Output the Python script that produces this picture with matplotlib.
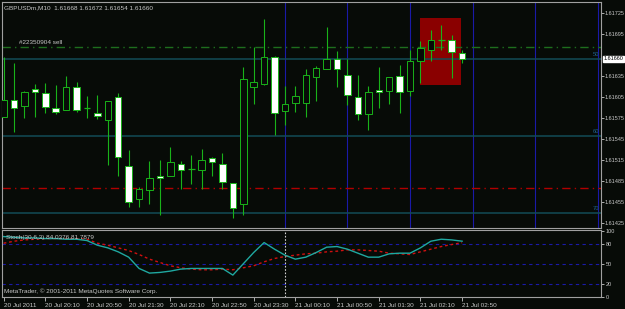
import matplotlib.pyplot as plt
from matplotlib.patches import Rectangle
import numpy as np

# GBPUSDm M10 bars, 20 Jul 19:30 .. 21 Jul 02:50
opens = [1.61576, 1.61601, 1.61593, 1.61616, 1.61611, 1.61589, 1.61586, 1.61620, 1.61590, 1.61582,
         1.61572, 1.61605, 1.61507, 1.61459, 1.61472, 1.61493, 1.61493, 1.61510, 1.61502, 1.61501,
         1.61518, 1.61510, 1.61483, 1.61453, 1.61620, 1.61624, 1.61663, 1.61585, 1.61597, 1.61597,
         1.61634, 1.61645, 1.61659, 1.61637, 1.61605, 1.61581, 1.61615, 1.61614, 1.61635, 1.61614,
         1.61657, 1.61673, 1.61686, 1.61686, 1.61668]
highs = [1.61662, 1.61654, 1.61614, 1.61624, 1.61625, 1.61623, 1.61635, 1.61627, 1.61606, 1.61608,
         1.61600, 1.61611, 1.61529, 1.61476, 1.61514, 1.61515, 1.61534, 1.61514, 1.61523, 1.61531,
         1.61520, 1.61525, 1.61483, 1.61648, 1.61676, 1.61717, 1.61664, 1.61621, 1.61621, 1.61645,
         1.61649, 1.61705, 1.61671, 1.61660, 1.61636, 1.61621, 1.61648, 1.61634, 1.61651, 1.61672,
         1.61685, 1.61701, 1.61708, 1.61694, 1.61672]
lows = [1.61576, 1.61555, 1.61575, 1.61577, 1.61583, 1.61581, 1.61586, 1.61584, 1.61575, 1.61574,
        1.61508, 1.61492, 1.61448, 1.61448, 1.61453, 1.61436, 1.61493, 1.61474, 1.61481, 1.61474,
        1.61493, 1.61474, 1.61432, 1.61437, 1.61595, 1.61623, 1.61551, 1.61565, 1.61584, 1.61577,
        1.61599, 1.61645, 1.61619, 1.61594, 1.61573, 1.61558, 1.61589, 1.61595, 1.61583, 1.61607,
        1.61625, 1.61657, 1.61673, 1.61633, 1.61654]
closes = [1.61601, 1.61589, 1.61613, 1.61613, 1.61591, 1.61584, 1.61620, 1.61587, 1.61590, 1.61578,
          1.61600, 1.61519, 1.61455, 1.61474, 1.61489, 1.61490, 1.61512, 1.61501, 1.61502, 1.61515,
          1.61512, 1.61484, 1.61447, 1.61631, 1.61626, 1.61662, 1.61582, 1.61595, 1.61606, 1.61636,
          1.61646, 1.61660, 1.61645, 1.61608, 1.61581, 1.61613, 1.61612, 1.61634, 1.61613, 1.61656,
          1.61675, 1.61687, 1.61686, 1.61669, 1.61660]

stoch_main = [91, 90, 89, 89, 88, 88, 87, 87, 85, 78, 74, 68, 60, 43, 36, 37, 39, 42, 43, 43,
              43, 43, 33, 50, 67, 82, 72, 63, 57, 60, 67, 75, 76, 72, 66, 60, 60, 65, 66, 66,
              74, 84, 87, 86, 84.04]
stoch_signal = [81, 84, 86, 87, 88, 88, 88, 88, 87, 81, 78, 74, 70, 64, 57, 52, 47, 44, 42, 41,
                41, 42, 41, 44, 47, 53, 58, 61, 63, 65, 66, 68, 69, 71, 71, 70, 69, 66, 65, 64,
                68, 72, 76, 79, 81.79]

time_pos = [0, 4, 8, 12, 16, 20, 24, 28, 32, 36, 40, 44]
time_labels = ["20 Jul 2011", "20 Jul 20:10", "20 Jul 20:50", "20 Jul 21:30", "20 Jul 22:10",
               "20 Jul 22:50", "20 Jul 23:30", "21 Jul 00:10", "21 Jul 00:50", "21 Jul 01:30",
               "21 Jul 02:10", "21 Jul 02:50"]
# 1.61665 sits under the current-price box, so it is not shown
price_ticks = [1.61425, 1.61455, 1.61485, 1.61515, 1.61545, 1.61575, 1.61605, 1.61635,
               1.61695, 1.61725]
stoch_ticks = [0, 20, 50, 80, 100]

order_price = 1.61676
red_level = 1.61475
teal_levels = [1.61660, 1.61550, 1.61440]
teal_names = ["50", "60", "70"]
hour_bars = [27, 33, 39, 45, 51, 57]
box_bars = (39.96, 43.9)
box_prices = (1.61622, 1.61718)
last_price = 1.61660

plt.rcParams['font.family'] = ['Liberation Sans', 'DejaVu Sans']
bg = '#070b07'
fg = '#c8c8c8'
green = '#19b219'
fs = 4.6
fs_axis = 4.0

fig = plt.figure(figsize=(6.25, 3.09), dpi=100, facecolor=bg)
W, H = 625, 309
ax = fig.add_axes([2 / W, 1 - 228 / H, 599 / W, 226 / H], facecolor=bg)
ax2 = fig.add_axes([2 / W, 1 - 297 / H, 599 / W, 67 / H], facecolor=bg)

xs = np.arange(len(opens))
xlim = (-0.154, 57.33)

# main pane
ax.add_patch(Rectangle((box_bars[0], box_prices[0]), box_bars[1] - box_bars[0],
                       box_prices[1] - box_prices[0], facecolor='#8a0000', edgecolor='none', zorder=1))
for b in hour_bars:
    ax.axvline(b, color='#1a1aa8', lw=0.8, zorder=1)
for lv in teal_levels:
    ax.axhline(lv, color='#124c56', lw=1.1, zorder=1)
ax.axhline(order_price, color='#1d6e1d', lw=1.0, ls=(0, (6, 3, 1, 3)), zorder=1)
ax.axhline(red_level, color='#b00000', lw=1.0, ls=(0, (6, 3, 1, 3)), zorder=1)

ax.vlines(xs, lows, highs, color=green, lw=0.8, zorder=2)
for i in xs:
    o, c = opens[i], closes[i]
    face = 'white' if c < o else bg
    lo, hi = min(o, c), max(o, c)
    if hi - lo < 1e-7:
        ax.hlines(o, i - 0.32, i + 0.32, color=green, lw=0.9, zorder=3)
    else:
        ax.add_patch(Rectangle((i - 0.31, lo), 0.62, hi - lo, facecolor=face,
                               edgecolor=green, lw=0.7, zorder=3))

ax.set_xlim(*xlim)
ax.set_ylim(1.61418, 1.61741)
ax.yaxis.tick_right()
ax.set_yticks(price_ticks)
ax.set_yticklabels([("%.5f" % p) for p in price_ticks])
ax.tick_params(axis='y', colors=fg, labelsize=fs_axis, length=2.5, pad=0.3, width=0.6)
ax.set_xticks([])
for s in ax.spines.values():
    s.set_color('#a0a0a0')
    s.set_linewidth(0.8)

ax.text(0.004, 0.985, "GBPUSDm,M10  1.61668 1.61672 1.61654 1.61660", transform=ax.transAxes,
        color=fg, fontsize=fs, va='top', ha='left')
ax.text(1.5, order_price + 0.00003, "#22350904 sell", color=fg, fontsize=fs, va='bottom', ha='left')
for lv, nm in zip(teal_levels, teal_names):
    ax.text(0.997, lv + 0.00002, nm, transform=ax.get_yaxis_transform(), color='#1f5f8a',
            fontsize=4.2, ha='right', va='bottom')
ax.annotate("%.5f" % last_price, xy=(1.0, last_price), xycoords=('axes fraction', 'data'),
            xytext=(2.0, 0), textcoords='offset points', fontsize=fs_axis, color='black', va='center',
            ha='left', bbox=dict(boxstyle='square,pad=0.12', fc='white', ec='white'),
            annotation_clip=False, zorder=10)

# stochastic pane
for lv in (20, 50, 80):
    ax2.axhline(lv, color='#1a1aa8', lw=0.8, ls=(0, (3, 3)))
ax2.axvline(27, color='#d0d0d0', lw=0.8, ls=(0, (1.5, 1.5)))
ax2.plot(xs, stoch_signal, color='#d01010', lw=1.0, ls=(0, (2, 2)))
ax2.plot(xs, stoch_main, color='#1fa8a0', lw=1.0)
ax2.set_xlim(*xlim)
ax2.set_ylim(0.45, 100.9)
ax2.yaxis.tick_right()
ax2.set_yticks(stoch_ticks)
ax2.tick_params(axis='y', colors=fg, labelsize=fs_axis, length=2.5, pad=1, width=0.6)
ax2.set_xticks(time_pos)
ax2.set_xticklabels(time_labels, ha='left')
ax2.tick_params(axis='x', colors=fg, labelsize=fs, length=3, pad=1, width=0.6)
for s in ax2.spines.values():
    s.set_color('#a0a0a0')
    s.set_linewidth(0.8)
ax2.text(0.006, 0.93, "Stoch(30,6,3) 84.0376 81.7879", transform=ax2.transAxes,
         color=fg, fontsize=fs, va='top', ha='left')
ax2.text(0.003, 0.04, "MetaTrader, \u00a9 2001-2011 MetaQuotes Software Corp.", transform=ax2.transAxes,
         color=fg, fontsize=fs, va='bottom', ha='left')

fig.savefig('out.png', dpi=100, facecolor=bg)
